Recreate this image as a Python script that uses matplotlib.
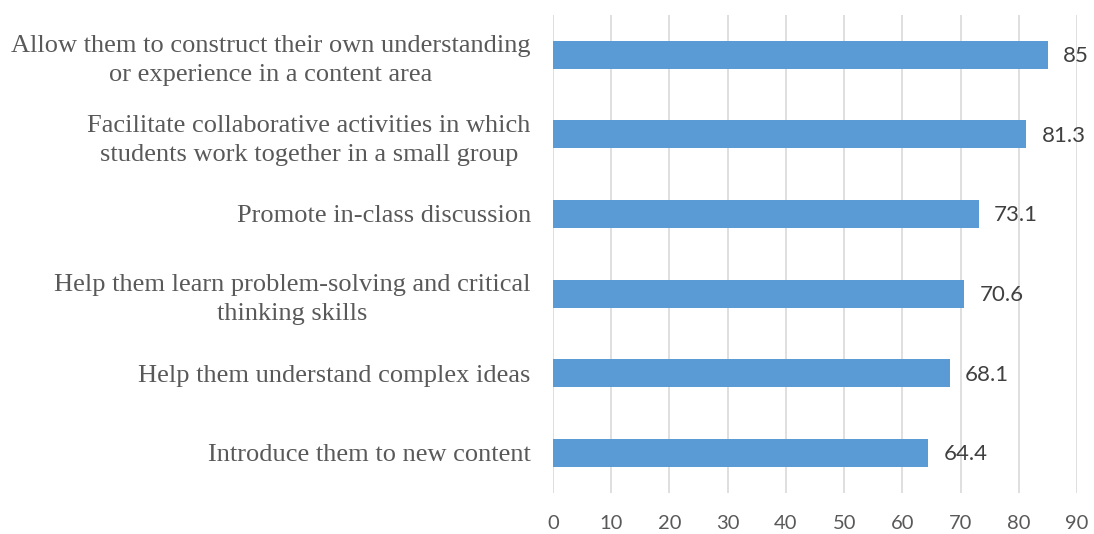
import matplotlib.pyplot as plt

# Categories listed bottom to top
categories = [
    "Introduce them to new content",
    "Help them understand complex ideas",
    "Help them learn problem-solving and critical\nthinking skills",
    "Promote in-class discussion",
    "Facilitate collaborative activities in which\nstudents work together in a small group",
    "Allow them to construct their own understanding\nor experience in a content area",
]
values = [64.4, 68.1, 70.6, 73.1, 81.3, 85]
value_labels = ["64.4", "68.1", "70.6", "73.1", "81.3", "85"]
x_ticks = [0, 10, 20, 30, 40, 50, 60, 70, 80, 90]

text_color = "#595959"
bar_color = "#5B9BD5"

fig = plt.figure(figsize=(10.94, 5.34), dpi=100)
ax = fig.add_axes([0.5055, 0.0775, 0.479, 0.8945])

pos = list(range(len(categories)))
ax.barh(pos, values, height=0.35, color=bar_color, zorder=2)

for p, v, lab in zip(pos, values, value_labels):
    ax.annotate(lab, (v, p), xytext=(11, -1), textcoords="offset points",
                va="center", ha="left", fontsize=16, color="#404040",
                family=["Lato", "DejaVu Sans"])

ax.set_xlim(0, 90)
ax.set_ylim(-0.5, len(categories) - 0.5)
ax.set_xticks(x_ticks)
ax.set_xticklabels([str(t) for t in x_ticks], fontsize=14.5, color=text_color,
                   family=["Lato", "DejaVu Sans"])
ax.set_yticks(pos)
ax.set_yticklabels(categories, fontsize=19, color=text_color,
                   family=["Liberation Serif", "DejaVu Serif"],
                   multialignment="center", linespacing=1.4)
ax.tick_params(axis="y", length=0, pad=16)
ax.tick_params(axis="x", length=0, pad=16)

ax.grid(axis="x", color="#D9D9D9", linewidth=1.2, zorder=0)
ax.set_axisbelow(True)
for s in ax.spines.values():
    s.set_visible(False)

fig.savefig("out.png", dpi=100)
